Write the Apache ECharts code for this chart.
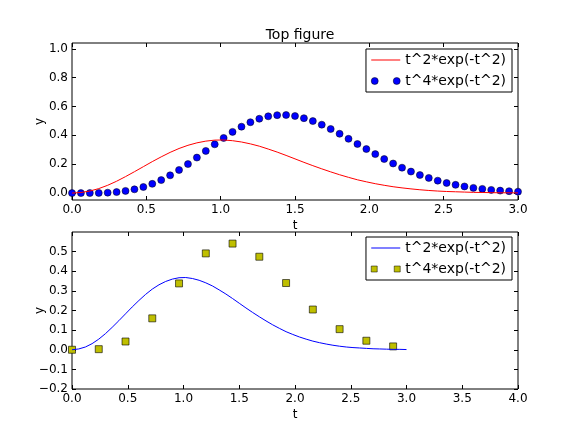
<!DOCTYPE html>
<head>
    <meta charset="utf-8">
    <title>Top figure</title>
    <script src="https://cdn.jsdelivr.net/npm/echarts@6/dist/echarts.min.js"></script>
    <style>
        html, body { margin: 0; padding: 0; background: #fff; }
        #main { width: 576px; height: 432px; }
    </style>
</head>
<body>
    <div id="main"></div>
    <script type="text/javascript">
        // t = 0 .. 3 in steps of 0.06
        var tVals = [0.00, 0.06, 0.12, 0.18, 0.24, 0.30, 0.36, 0.42, 0.48, 0.54,
                     0.60, 0.66, 0.72, 0.78, 0.84, 0.90, 0.96, 1.02, 1.08, 1.14,
                     1.20, 1.26, 1.32, 1.38, 1.44, 1.50, 1.56, 1.62, 1.68, 1.74,
                     1.80, 1.86, 1.92, 1.98, 2.04, 2.10, 2.16, 2.22, 2.28, 2.34,
                     2.40, 2.46, 2.52, 2.58, 2.64, 2.70, 2.76, 2.82, 2.88, 2.94, 3.00];
        // t^2*exp(-t^2)
        var y1 = [0.000, 0.004, 0.014, 0.031, 0.054, 0.082, 0.114, 0.148, 0.183, 0.218,
                  0.251, 0.282, 0.309, 0.331, 0.348, 0.360, 0.367, 0.368, 0.363, 0.354,
                  0.341, 0.325, 0.305, 0.284, 0.261, 0.237, 0.213, 0.190, 0.168, 0.147,
                  0.127, 0.109, 0.092, 0.078, 0.065, 0.054, 0.044, 0.036, 0.029, 0.023,
                  0.018, 0.014, 0.011, 0.009, 0.007, 0.005, 0.004, 0.003, 0.002, 0.002, 0.001];
        // t^4*exp(-t^2)
        var y2 = [0.000, 0.000, 0.000, 0.001, 0.003, 0.007, 0.015, 0.026, 0.042, 0.064,
                  0.090, 0.123, 0.160, 0.201, 0.246, 0.292, 0.338, 0.382, 0.424, 0.460,
                  0.491, 0.515, 0.532, 0.540, 0.541, 0.534, 0.519, 0.499, 0.474, 0.444,
                  0.411, 0.376, 0.340, 0.305, 0.270, 0.236, 0.205, 0.176, 0.149, 0.125,
                  0.105, 0.086, 0.070, 0.057, 0.046, 0.036, 0.029, 0.022, 0.017, 0.013, 0.010];
        // every 4th point, bottom plot squares
        var tSub = [0.00, 0.24, 0.48, 0.72, 0.96, 1.20, 1.44, 1.68, 1.92, 2.16, 2.40, 2.64, 2.88];
        var y2Sub = [0.000, 0.003, 0.042, 0.160, 0.338, 0.491, 0.541, 0.474, 0.340, 0.205, 0.105, 0.046, 0.017];

        var topYTicks = [0.0, 0.2, 0.4, 0.6, 0.8, 1.0];
        var botYTicks = [-0.2, -0.1, 0.0, 0.1, 0.2, 0.3, 0.4, 0.5];
        var name1 = 't^2*exp(-t^2)';
        var name2 = 't^4*exp(-t^2)';

        function pairs(xs, ys) {
            return xs.map(function (x, i) { return [x, ys[i]]; });
        }

        var font = 'DejaVu Sans';
        var fmt = function (v) { return (Math.abs(v) < 1e-9 ? 0 : v).toFixed(1).replace('-', '\u2212'); };
        var tick = { show: true, inside: true, length: 4, lineStyle: { color: '#000', width: 1 } };

        function xAx(grid, max, pos, labels) {
            return {
                type: 'value', gridIndex: grid, min: 0, max: max, interval: 0.5, position: pos,
                name: labels ? 't' : '', nameLocation: 'middle', nameGap: 20, nameMoveOverlap: false,
                nameTextStyle: { color: '#000', fontFamily: font, fontSize: 12 },
                axisLine: { show: false, onZero: false },
                axisTick: tick,
                axisLabel: { show: labels, color: '#000', fontFamily: font, fontSize: 12, margin: 4, formatter: fmt },
                splitLine: { show: false }
            };
        }
        function yAx(grid, min, max, ticks, pos, labels) {
            return {
                type: 'value', gridIndex: grid, min: min, max: max, position: pos,
                name: labels ? 'y' : '', nameLocation: 'middle', nameGap: 26, nameRotate: 90, nameMoveOverlap: false,
                nameTextStyle: { color: '#000', fontFamily: font, fontSize: 12 },
                axisLine: { show: false, onZero: false },
                axisTick: Object.assign({ customValues: ticks }, tick),
                axisLabel: { show: labels, customValues: ticks, color: '#000', fontFamily: font, fontSize: 12, margin: 4, formatter: fmt },
                splitLine: { show: false }
            };
        }

        var lineIcon = 'path://M0,0H29V1H0Z';
        var dotIcon = 'path://M0,3.5a3.5,3.5 0 1,0 7,0a3.5,3.5 0 1,0 -7,0Z M22,3.5a3.5,3.5 0 1,0 7,0a3.5,3.5 0 1,0 -7,0Z';
        var sqIcon = 'path://M0,0h6v6h-6Z M23,0h6v6h-6Z';

        function legend(top, lineColor, icon2, color2) {
            return {
                orient: 'vertical', right: 64, top: top,
                backgroundColor: '#fff', borderColor: '#000', borderWidth: 1,
                padding: [4, 6, 4, 5], itemGap: 7, itemWidth: 29, itemHeight: 7, itemTextGap: 12,
                textStyle: { color: '#000', fontFamily: font, fontSize: 14 },
                selectedMode: false,
                data: [
                    { name: name1, icon: lineIcon, itemStyle: { color: lineColor, borderWidth: 0 } },
                    { name: name2, icon: icon2, itemStyle: { color: color2, borderColor: '#000', borderWidth: 0.5 } }
                ]
            };
        }

        var myChart = echarts.init(document.getElementById('main'), null, { renderer: 'canvas' });
        var option = {
            backgroundColor: '#fff',
            animation: false,
            title: {
                text: 'Top figure', left: 295, top: 23, textAlign: 'center',
                textStyle: { color: '#000', fontFamily: font, fontSize: 14, fontWeight: 'normal' }
            },
            legend: [
                legend(49, '#ff0000', dotIcon, '#0000ff'),
                legend(237, '#0000ff', sqIcon, '#bfbf00')
            ],
            grid: [
                { left: 72, right: 58, top: 43, height: 157, show: true, borderColor: '#000', borderWidth: 1, backgroundColor: 'transparent' },
                { left: 72, right: 58, top: 232, height: 157, show: true, borderColor: '#000', borderWidth: 1, backgroundColor: 'transparent' }
            ],
            xAxis: [
                xAx(0, 3, 'bottom', true),
                xAx(1, 4, 'bottom', true),
                xAx(0, 3, 'top', false),
                xAx(1, 4, 'top', false)
            ],
            yAxis: [
                yAx(0, -0.048, 1.04, topYTicks, 'left', true),
                yAx(1, -0.2, 0.6, botYTicks, 'left', true),
                yAx(0, -0.048, 1.04, topYTicks, 'right', false),
                yAx(1, -0.2, 0.6, botYTicks, 'right', false)
            ],
            series: [
                {
                    name: name1, type: 'line', xAxisIndex: 0, yAxisIndex: 0,
                    data: pairs(tVals, y1), showSymbol: false, symbol: 'none',
                    lineStyle: { color: '#ff0000', width: 1 }, itemStyle: { color: '#ff0000' }
                },
                {
                    name: name2, type: 'scatter', xAxisIndex: 0, yAxisIndex: 0,
                    data: pairs(tVals, y2), symbol: 'circle', symbolSize: 7,
                    itemStyle: { color: '#0000ff', borderColor: '#000', borderWidth: 0.5, opacity: 1 }
                },
                {
                    name: name1, type: 'line', xAxisIndex: 1, yAxisIndex: 1,
                    data: pairs(tVals, y1), showSymbol: false, symbol: 'none',
                    lineStyle: { color: '#0000ff', width: 1 }, itemStyle: { color: '#0000ff' }
                },
                {
                    name: name2, type: 'scatter', xAxisIndex: 1, yAxisIndex: 1,
                    data: pairs(tSub, y2Sub), symbol: 'rect', symbolSize: 7,
                    itemStyle: { color: '#bfbf00', borderColor: '#000', borderWidth: 0.6, opacity: 1 }
                }
            ]
        };
        myChart.setOption(option);
    </script>
</body>
